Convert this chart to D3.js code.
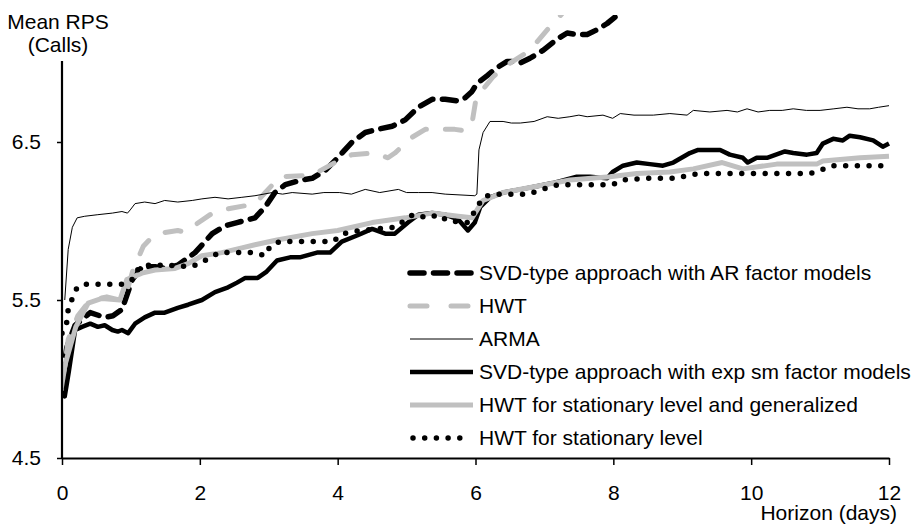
<!DOCTYPE html>
<html>
<head>
<meta charset="utf-8">
<script src="https://cdn.jsdelivr.net/npm/d3@7"></script>
<style>
  body { margin: 0; background: #fff; }
  text { font-family: "Liberation Sans", Arial, sans-serif; font-size: 21px; fill: #000; }
</style>
</head>
<body>
<div id="chart"></div>
<script>
// horizon in days, mean RPS values
const svdAr = [[0,5.0],[0.07,5.2],[0.19,5.34],[0.41,5.42],[0.62,5.39],[0.74,5.40],[0.87,5.44],[1.02,5.63],[1.16,5.71],[1.35,5.71],[1.49,5.70],[1.68,5.72],[1.93,5.80],[2.18,5.92],[2.37,5.97],[2.54,5.99],[2.80,6.02],[2.95,6.09],[3.09,6.18],[3.24,6.23],[3.48,6.26],[3.63,6.27],[3.82,6.32],[4.00,6.40],[4.21,6.50],[4.40,6.56],[4.58,6.58],[4.79,6.60],[4.98,6.64],[5.17,6.72],[5.37,6.77],[5.56,6.77],[5.75,6.76],[5.85,6.78],[5.95,6.82],[6.02,6.87],[6.17,6.92],[6.31,6.97],[6.46,7.01],[6.54,7.01],[6.65,7.00],[6.79,7.03],[6.98,7.08],[7.18,7.15],[7.33,7.19],[7.47,7.18],[7.62,7.18],[7.76,7.21],[7.91,7.25],[8.05,7.30],[8.24,7.38],[8.5,7.45]];
const hwt = [[0,4.95],[0.09,5.25],[0.23,5.40],[0.41,5.50],[0.65,5.52],[0.84,5.50],[0.94,5.55],[1.03,5.69],[1.18,5.84],[1.31,5.90],[1.38,5.92],[1.68,5.94],[1.78,5.93],[2.15,6.04],[2.32,6.07],[2.70,6.10],[2.80,6.11],[2.95,6.18],[3.16,6.28],[3.63,6.29],[3.96,6.37],[4.21,6.42],[4.54,6.43],[4.73,6.40],[4.83,6.43],[5.08,6.53],[5.27,6.58],[5.70,6.58],[5.86,6.57],[5.95,6.62],[6.01,6.78],[6.25,6.91],[6.40,6.97],[6.79,7.08],[7.12,7.25],[7.23,7.30],[7.44,7.40]];
const arma = [[0.04,5.50],[0.09,5.82],[0.15,5.96],[0.22,6.02],[0.33,6.03],[0.52,6.04],[0.73,6.05],[0.87,6.06],[0.95,6.05],[0.99,6.07],[1.06,6.11],[1.20,6.12],[1.35,6.11],[1.49,6.13],[1.68,6.12],[1.89,6.13],[2.03,6.14],[2.22,6.15],[2.41,6.14],[2.61,6.15],[2.80,6.16],[3.05,6.18],[3.20,6.17],[3.34,6.18],[3.63,6.17],[3.80,6.18],[4.03,6.18],[4.20,6.17],[4.40,6.20],[4.61,6.18],[4.88,6.20],[5.00,6.18],[5.17,6.18],[5.37,6.18],[5.56,6.17],[5.99,6.16],[6.02,6.17],[6.05,6.45],[6.11,6.56],[6.21,6.63],[6.40,6.63],[6.52,6.62],[6.65,6.62],[6.85,6.63],[7.04,6.66],[7.20,6.65],[7.37,6.66],[7.50,6.67],[7.62,6.66],[7.85,6.67],[7.99,6.65],[8.10,6.68],[8.30,6.67],[8.58,6.67],[8.82,6.68],[9.07,6.67],[9.16,6.70],[9.40,6.69],[9.65,6.70],[9.80,6.69],[9.94,6.71],[10.10,6.69],[10.27,6.70],[10.45,6.70],[10.61,6.71],[10.80,6.70],[11.00,6.70],[11.20,6.71],[11.39,6.72],[11.55,6.71],[11.72,6.71],[11.85,6.72],[12.0,6.73]];
const svdExp = [[0,4.92],[0.04,4.89],[0.10,5.05],[0.19,5.31],[0.29,5.33],[0.41,5.35],[0.52,5.33],[0.62,5.34],[0.73,5.31],[0.81,5.30],[0.87,5.31],[0.96,5.29],[1.06,5.35],[1.20,5.39],[1.35,5.42],[1.49,5.42],[1.68,5.45],[1.83,5.47],[2.03,5.50],[2.22,5.55],[2.41,5.58],[2.54,5.61],[2.66,5.64],[2.84,5.64],[2.97,5.68],[3.12,5.75],[3.31,5.77],[3.45,5.77],[3.70,5.80],[3.89,5.80],[4.06,5.87],[4.29,5.91],[4.50,5.95],[4.69,5.92],[4.83,5.92],[5.02,5.99],[5.17,6.04],[5.37,6.05],[5.56,6.04],[5.75,6.01],[5.89,5.94],[5.99,5.99],[6.07,6.09],[6.21,6.15],[6.40,6.18],[6.65,6.20],[6.89,6.22],[7.12,6.24],[7.47,6.28],[7.66,6.28],[7.91,6.27],[7.99,6.31],[8.14,6.35],[8.34,6.37],[8.53,6.36],[8.72,6.35],[8.87,6.37],[9.11,6.43],[9.23,6.45],[9.55,6.45],[9.69,6.42],[9.88,6.40],[9.95,6.37],[10.08,6.40],[10.23,6.40],[10.49,6.44],[10.61,6.43],[10.81,6.42],[10.95,6.43],[11.04,6.49],[11.19,6.52],[11.33,6.51],[11.43,6.54],[11.58,6.53],[11.77,6.51],[11.91,6.47],[12.0,6.49]];
const hwtGen = [[0,5.0],[0.05,5.10],[0.20,5.33],[0.38,5.48],[0.58,5.51],[0.84,5.50],[0.94,5.63],[1.16,5.67],[1.35,5.69],[1.64,5.70],[1.83,5.73],[2.03,5.78],[2.32,5.80],[2.61,5.83],[2.80,5.85],[3.12,5.88],[3.63,5.92],[4.00,5.94],[4.50,5.99],[4.98,6.02],[5.37,6.05],[5.75,6.03],[5.95,6.02],[6.11,6.13],[6.40,6.18],[6.89,6.22],[7.37,6.26],[7.95,6.28],[8.34,6.30],[8.82,6.31],[9.16,6.33],[9.58,6.37],[9.88,6.33],[10.37,6.36],[10.95,6.36],[11.04,6.38],[11.58,6.40],[12.0,6.41]];
const hwtStat = [[0,5.29],[0.07,5.36],[0.09,5.44],[0.15,5.51],[0.22,5.58],[0.33,5.60],[0.89,5.60],[1.02,5.63],[1.09,5.69],[1.23,5.72],[1.52,5.72],[1.86,5.71],[2.00,5.73],[2.15,5.77],[2.29,5.80],[2.77,5.80],[2.95,5.78],[3.02,5.84],[3.16,5.87],[3.93,5.87],[4.08,5.92],[4.32,5.94],[4.83,5.96],[5.09,6.04],[5.31,6.02],[5.46,6.04],[5.60,6.00],[5.89,5.99],[6.04,6.10],[6.11,6.15],[6.25,6.17],[6.76,6.17],[7.04,6.21],[7.20,6.23],[7.99,6.23],[8.14,6.26],[8.49,6.27],[8.92,6.27],[9.08,6.29],[9.26,6.30],[10.85,6.30],[11.00,6.32],[11.17,6.35],[11.97,6.35]];

const seriesNames = [
  'SVD-type approach with AR factor models',
  'HWT',
  'ARMA',
  'SVD-type approach with exp sm factor models',
  'HWT for stationary level and generalized',
  'HWT for stationary level'
];
const xTicks = [0, 2, 4, 6, 8, 10, 12];
const yTicks = [4.5, 5.5, 6.5];

const width = 913, height = 525;

const svg = d3.select('#chart')
  .append('svg')
  .attr('width', width)
  .attr('height', height);

const x = d3.scaleLinear().domain([0, 12]).range([62, 889]);
const y = d3.scaleLinear().domain([4.5, 7]).range([458, 63]);

// styles per series, same order as the legend
const styles = [
  { data: svdAr, color: '#000', w: 5.5, dash: '14 9.5' },
  { data: hwt, color: '#c0c0c0', w: 5, dash: '16 19' },
  { data: arma, color: '#000', w: 1, dash: null },
  { data: svdExp, color: '#000', w: 4.5, dash: null },
  { data: hwtGen, color: '#c0c0c0', w: 5, dash: null },
  { data: hwtStat, color: '#000', w: 5.5, dash: '0 11.7' }
];

svg.append('defs').append('clipPath')
  .attr('id', 'plotClip')
  .append('rect')
  .attr('x', 62).attr('y', 15)
  .attr('width', 840).attr('height', 450);

// **Lines**
const line = d3.line().x(d => x(d[0])).y(d => y(d[1]));
const plot = svg.append('g').attr('clip-path', 'url(#plotClip)');
styles.forEach(s => {
  plot.append('path')
    .datum(s.data)
    .attr('fill', 'none')
    .attr('stroke', s.color)
    .attr('stroke-width', s.w)
    .attr('stroke-dasharray', s.dash)
    .attr('stroke-linecap', s.dash ? 'round' : 'butt')
    .attr('stroke-linejoin', 'round')
    .attr('d', line);
});

// **Y-Axis**
const yAxis = svg.append('g')
  .attr('transform', 'translate(62,0)')
  .call(d3.axisLeft(y).tickValues(yTicks).tickFormat(d3.format('.1f')).tickSize(5).tickSizeOuter(0).tickPadding(16));

// **X-Axis**
const xAxis = svg.append('g')
  .attr('transform', 'translate(0,458)')
  .call(d3.axisBottom(x).tickValues(xTicks).tickSize(7).tickSizeOuter(0).tickPadding(20));

[yAxis, xAxis].forEach(a => {
  a.select('.domain').attr('stroke-width', 2.2);
  a.selectAll('.tick line').attr('stroke-width', 1.5);
  a.selectAll('text').attr('font-size', null).attr('font-family', null);
});
yAxis.select('.domain').attr('d', 'M0,459V61');

// axis titles
svg.append('text').attr('x', 58).attr('y', 29).attr('text-anchor', 'middle').text('Mean RPS');
svg.append('text').attr('x', 58).attr('y', 52).attr('text-anchor', 'middle').text('(Calls)');
svg.append('text').attr('x', 897).attr('y', 520).attr('text-anchor', 'end').text('Horizon (days)');

// **Legend**
const legend = svg.append('g');
seriesNames.forEach((name, i) => {
  const s = styles[i];
  const ly = 273 + i * 33;
  legend.append('line')
    .attr('x1', i === 5 ? 413 : 410).attr('x2', i === 5 ? 462 : 473)
    .attr('y1', ly).attr('y2', ly)
    .attr('stroke', s.color)
    .attr('stroke-width', s.w)
    .attr('stroke-dasharray', i === 1 ? '17 24' : (i === 0 ? '14 9.5' : s.dash))
    .attr('stroke-linecap', s.dash ? 'round' : 'butt');
  legend.append('text')
    .attr('x', 479).attr('y', ly).attr('dy', '0.35em')
    .text(name);
});
</script>
</body>
</html>
